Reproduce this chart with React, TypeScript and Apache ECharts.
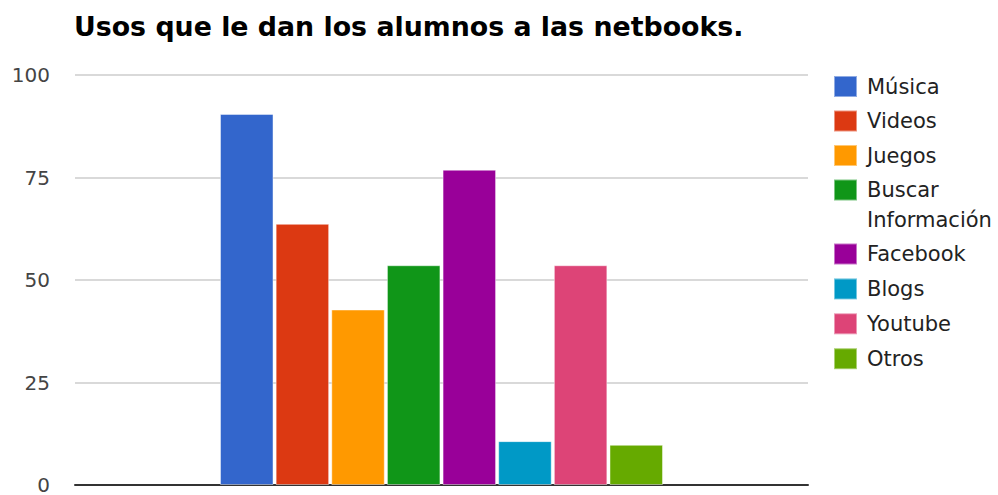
import React, { useEffect, useRef } from "react";
import * as echarts from "echarts";

const TITLE = "Usos que le dan los alumnos a las netbooks.";
const seriesNames = [
  "Música",
  "Videos",
  "Juegos",
  "Buscar Información",
  "Facebook",
  "Blogs",
  "Youtube",
  "Otros",
];
const seriesValues = [90.5, 63.7, 42.8, 53.6, 76.9, 10.7, 53.6, 9.8];
const seriesColors = [
  "#3366cc",
  "#dc3912",
  "#ff9900",
  "#109618",
  "#990099",
  "#0099c6",
  "#dd4477",
  "#66aa00",
];
const categories = [""];
const yMin = 0;
const yMax = 100;
const yInterval = 25;

export default function App() {
  const ref = useRef<HTMLDivElement>(null);
  useEffect(() => {
    document.body.style.margin = "0";
    if (!ref.current) return;
    const chart = echarts.init(ref.current, undefined, { renderer: "svg" });
    const font = "DejaVu Sans";
    const legendText = {
      fontFamily: font,
      fontSize: 21,
      lineHeight: 21,
      color: "#222",
      padding: [0, 0, 0, 5],
    };
    const legendBase = {
      orient: "vertical",
      left: 833,
      padding: 0,
      icon: "rect",
      itemWidth: 23,
      itemHeight: 21,
      selectedMode: false,
      textStyle: legendText,
    };
    chart.setOption({
      animation: false,
      backgroundColor: "#fff",
      title: {
        text: TITLE,
        left: 74,
        top: 13,
        padding: 0,
        textStyle: {
          fontFamily: font,
          fontSize: 26.8,
          fontWeight: "bold",
          color: "#000",
        },
      },
      legend: [
        {
          ...legendBase,
          top: 75,
          itemGap: 11.5,
          data: seriesNames.slice(0, 3),
        },
        {
          ...legendBase,
          top: 145,
          itemGap: 11.5,
          formatter: (n: string) => "\n" + n.replace(" ", "\n"),
          textStyle: { ...legendText, lineHeight: 30 },
          data: seriesNames.slice(3, 4),
        },
        {
          ...legendBase,
          top: 242.5,
          itemGap: 11.9,
          data: seriesNames.slice(4),
        },
      ],
      grid: {
        left: 75,
        right: 190,
        top: 75,
        height: 416,
        containLabel: false,
      },
      xAxis: {
        type: "category",
        data: categories,
        axisLine: { show: true, lineStyle: { color: "#333", width: 2 } },
        axisTick: { show: false },
        axisLabel: { show: false },
        splitLine: { show: false },
      },
      yAxis: {
        type: "value",
        min: yMin,
        max: yMax,
        interval: yInterval,
        axisLine: { show: false },
        axisTick: { show: false },
        axisLabel: {
          margin: 25,
          fontFamily: font,
          fontSize: 20,
          color: "#444",
        },
        splitLine: { lineStyle: { color: "#d9d9d9", width: 2 } },
      },
      series: seriesNames.map((name, i) => ({
        name,
        type: "bar",
        data: [seriesValues[i]],
        barWidth: 53.5,
        barGap: "4%",
        itemStyle: {
          color: seriesColors[i],
          borderColor: "rgba(255,255,255,0.45)",
          borderWidth: 1,
        },
        emphasis: { disabled: true },
      })),
    });
    return () => chart.dispose();
  }, []);
  return <div ref={ref} style={{ width: 998, height: 495 }} />;
}
